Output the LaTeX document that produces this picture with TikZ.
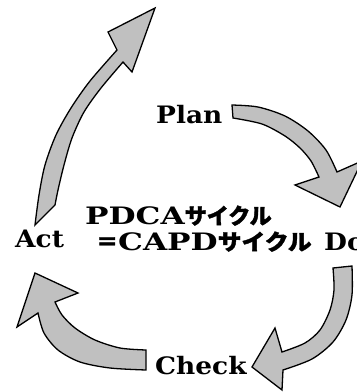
\documentclass[tikz,border=0pt]{standalone}
\usepackage{fontspec}
\usepackage{graphicx}
\setmainfont{DejaVu Serif}
\newfontfamily\jpfont{Noto Sans CJK JP}[FakeBold=1.5]
\newcommand{\latx}[1]{\scalebox{1.1}[1]{\fontsize{24}{26}\selectfont\bfseries #1}}
\newcommand{\latm}[1]{\scalebox{1.3}[1]{\fontsize{24}{26}\selectfont\bfseries #1}}
\newcommand{\katx}[1]{{\jpfont\bfseries\fontsize{22}{24}\selectfont #1}}
\newcommand{\katw}[1]{\scalebox{1.08}[1]{\jpfont\bfseries\fontsize{22}{24}\selectfont #1}}
\definecolor{arrowgray}{RGB}{192,192,192}
\begin{document}
\begin{tikzpicture}[x=1pt,y=-1pt,
  arr/.style={fill=arrowgray, draw=black, line width=1.3pt},
  lbl/.style={anchor=base west, inner sep=0pt}]
\useasboundingbox (0,0) rectangle (357,392);
\clip (0,0) rectangle (357,392);
% Act -> Plan
\path[arr] (35,225) -- plot[smooth] coordinates {(35,225) (39,195) (45,165) (56,135) (71,108) (90,81) (117,50)}
  -- (108,32) -- (155,8) -- (132,72) -- (123,62)
  -- plot[smooth] coordinates {(123,62) (101,88) (84,112) (72,138) (64,165) (58,190) (55,205)} -- cycle;
% Plan -> Do
\path[arr] (232,105) -- plot[smooth] coordinates {(232,105) (258,107) (285,116) (308,131) (326,150) (337,172)}
  -- (362,161) -- (340,207) -- (295,185) -- (319,177)
  -- plot[smooth] coordinates {(319,177) (311,161) (300,148) (285,136) (262,124) (233,118)} -- cycle;
% Do -> Check
\path[arr] (352,266) -- plot[smooth] coordinates {(352,266) (352,295) (346,320) (333,342) (312,359) (283,370)}
  -- (282,390) -- (252,367) -- (275,328) -- (282,352)
  -- plot[smooth] coordinates {(282,352) (305,343) (320,330) (330,310) (334,290) (333,268)} -- cycle;
% Check -> Act
\path[arr] (146,350) -- plot[smooth] coordinates {(146,350) (120,348) (95,340) (75,328) (62,315) (55,302)}
  -- (78,293) -- (35,273) -- (17,327) -- (38,313)
  -- plot[smooth] coordinates {(38,313) (44,333) (58,350) (80,362) (110,368) (146,370)} -- cycle;
% labels
\node[lbl] (plan) at (156,123) {\latx{Plan}};
\node[lbl] (l1) at (85,224) {\latm{PDCA}\katx{サイクル}};
\node[lbl] (act) at (15,247) {\latx{Act}};
\node[lbl] (l2) at (96,250) {\katx{＝}\latm{CAPD}\katw{サイクル}};
\node[lbl] (do) at (324,250) {\latx{Do}};
\node[lbl] (check) at (155,374) {\latx{Check}};
\end{tikzpicture}
\end{document}
